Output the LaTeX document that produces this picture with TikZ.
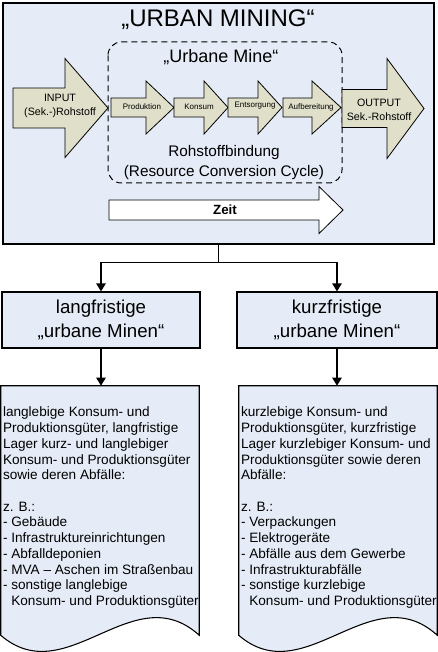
\documentclass[tikz,border=0pt]{standalone}
\usepackage{fontspec}
\setmainfont{Liberation Sans}
\usepackage{tikz}
\usepackage{xcolor}
\usetikzlibrary{arrows.meta}
\definecolor{UM_Sky}{HTML}{E6ECF7}
\definecolor{UM_Sand}{HTML}{DFDFCA}

% tail x, head x, tip x, mid y, half body, half head
\newcommand{\blockarrow}[7]{%
  \filldraw[#1] (#2,#5-#6) -- (#3,#5-#6) -- (#3,#5-#7) -- (#4,#5) -- (#3,#5+#7) -- (#3,#5+#6) -- (#2,#5+#6) -- cycle;}

\begin{document}
\begin{tikzpicture}[x=0.75pt, y=-0.75pt,
    flow/.style={draw=black, line width=0.6pt, fill=UM_Sand},
    timeflow/.style={draw=black, line width=0.6pt, fill=white},
    mainbox/.style={draw=black, line width=0.8pt, fill=UM_Sky, minimum width=323.25pt, minimum height=180.75pt, inner sep=0pt},
    catbox/.style={draw=black, line width=0.8pt, fill=UM_Sky, minimum height=42pt, inner sep=0pt, align=center, font={\fontsize{14}{18}\selectfont}},
    docbox/.style={minimum width=148.5pt, minimum height=186.75pt, inner sep=0pt},
    docline/.style={draw=black, line width=0.8pt, fill=UM_Sky},
    doctext/.style={anchor=north west, inner sep=0pt, align=left, font={\fontsize{10.2}{11.8}\selectfont}},
    conn/.style={line width=1pt, -{Triangle[length=6pt, width=7pt]}},
    steplabel/.style={font={\fontsize{6}{7}\selectfont}, inner sep=0pt},
    endlabel/.style={font={\fontsize{8}{10.5}\selectfont}, align=center, inner sep=0pt},
    cycletext/.style={font={\fontsize{11.5}{14}\selectfont}, inner sep=0pt}]

    \useasboundingbox (0,0) rectangle (438,652);

    \node[mainbox] (urban) at (218.5,123.5) {};
    \node[font={\fontsize{18}{20}\selectfont}, inner sep=0pt] (title) at (218,20) {„URBAN MINING“};
    \draw[dash pattern=on 4.5pt off 3pt, line width=0.75pt, rounded corners=10pt] (108,42) rectangle (342,183);
    \node[font={\fontsize{13.5}{15}\selectfont}, inner sep=0pt] (mine) at (221,57.5) {„Urbane Mine“};

    % resource cycle
    \blockarrow{flow}{13}{65}{108}{108}{20}{49.5}
    \blockarrow{flow}{111}{146}{174}{107.5}{9.5}{26.5}
    \blockarrow{flow}{174}{204}{228}{107.5}{9.5}{26.5}
    \blockarrow{flow}{228}{258}{282}{107.5}{9.5}{26.5}
    \blockarrow{flow}{283}{312}{341}{107.5}{9.5}{26.5}
    \blockarrow{flow}{342}{387}{424}{108.5}{19}{50}
    \node[endlabel] (input) at (60,106) {INPUT\\(Sek.-)Rohstoff};
    \node[steplabel] (prod) at (142,107) {Produktion};
    \node[steplabel] (kons) at (199,107) {Konsum};
    \node[steplabel] (ents) at (255,106) {Entsorgung};
    \node[steplabel] (aufb) at (311,107.5) {Aufbereitung};
    \node[endlabel] (output) at (379,109.5) {OUTPUT\\Sek.-Rohstoff};
    \node[cycletext] (bind) at (224,153) {Rohstoffbindung};
    \node[cycletext] (rcc) at (224,173) {(Resource Conversion Cycle)};

    % time
    \blockarrow{timeflow}{109}{319}{343}{210}{10}{23.5}
    \node[font={\fontsize{10}{12}\selectfont\bfseries}, inner sep=0pt] (zeit) at (225,210) {Zeit};

    % categories
    \node[catbox, minimum width=148.5pt] (lbox) at (101,320) {langfristige\\„urbane Minen“};
    \node[catbox, minimum width=150pt] (rbox) at (337,320) {kurzfristige\\„urbane Minen“};
    \draw[line width=1pt] (urban.south) -- ++(0,18) coordinate (split);
    \draw[conn] (split) -| (lbox.north);
    \draw[conn] (split) -| (rbox.north);

    % documents
    \node[docbox] (ldoc) at (100,510.5) {};
    \node[docbox] (rdoc) at (338,510.5) {};
    \filldraw[docline] (ldoc.south east) -- (ldoc.north east) -- (ldoc.north west) -- (ldoc.south west)
        .. controls +(66,57) and +(-66,-60) .. (ldoc.south east) -- cycle;
    \filldraw[docline] (rdoc.south east) -- (rdoc.north east) -- (rdoc.north west) -- (rdoc.south west)
        .. controls +(66,57) and +(-66,-60) .. (rdoc.south east) -- cycle;
    \draw[conn] (lbox.south) -- (lbox.south |- ldoc.north);
    \draw[conn] (rbox.south) -- (rbox.south |- rdoc.north);

    \node[doctext] (ltext) at ([shift={(2,21)}]ldoc.north west) {langlebige Konsum- und\\
        Produktionsgüter, langfristige\\
        Lager kurz- und langlebiger\\
        Konsum- und Produktionsgüter\\
        sowie deren Abfälle:\\[11.8pt]
        z. B.:\\
        - Gebäude\\
        - Infrastruktureinrichtungen\\
        - Abfalldeponien\\
        - MVA – Aschen im Straßenbau\\
        - sonstige langlebige\\
        \hphantom{- }Konsum- und Produktionsgüter};
    \node[doctext] (rtext) at ([shift={(2,21)}]rdoc.north west) {kurzlebige Konsum- und\\
        Produktionsgüter, kurzfristige\\
        Lager kurzlebiger Konsum- und\\
        Produktionsgüter sowie deren\\
        Abfälle:\\[11.8pt]
        z. B.:\\
        - Verpackungen\\
        - Elektrogeräte\\
        - Abfälle aus dem Gewerbe\\
        - Infrastrukturabfälle\\
        - sonstige kurzlebige\\
        \hphantom{- }Konsum- und Produktionsgüter};
\end{tikzpicture}
\end{document}
